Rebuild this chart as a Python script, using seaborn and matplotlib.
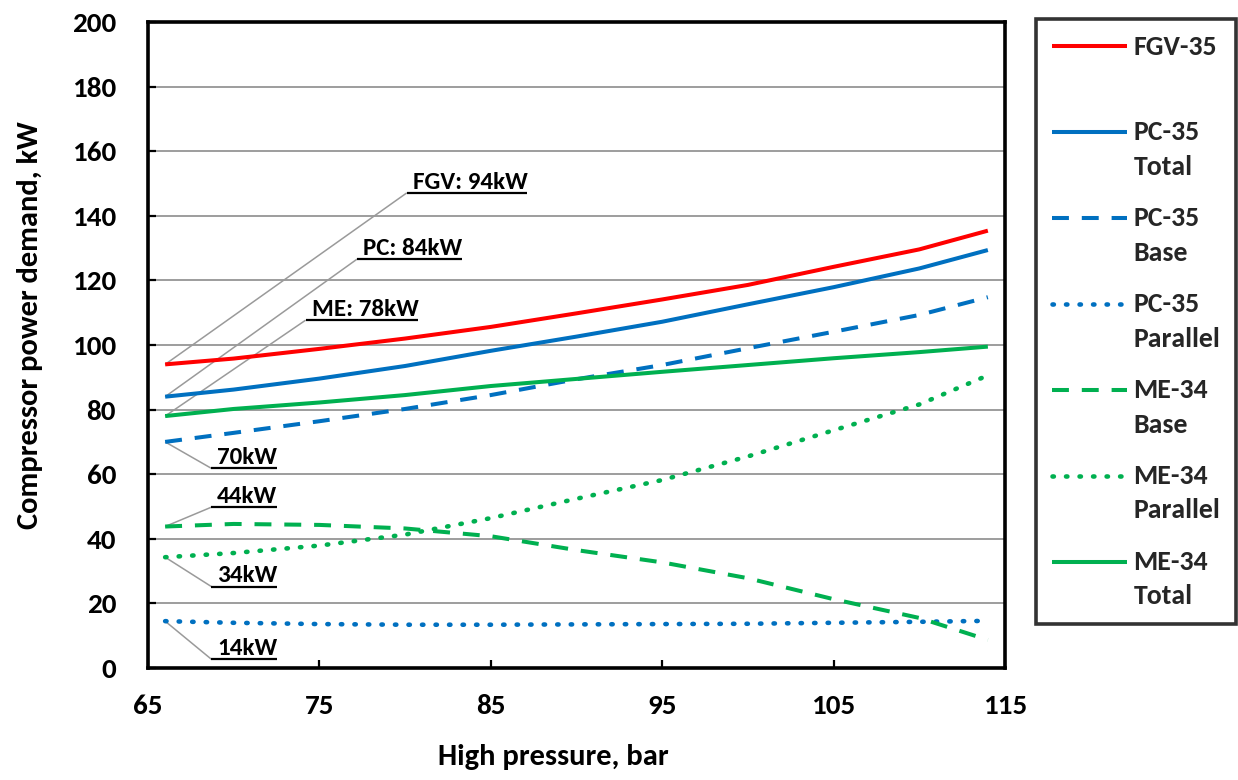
import numpy as np
import pandas as pd
import matplotlib
matplotlib.use("Agg")
import matplotlib.pyplot as plt
from matplotlib import font_manager as fm
from matplotlib.lines import Line2D
from matplotlib.legend_handler import HandlerLine2D
import seaborn as sns

# ---------------- data ----------------
pressure = [66, 70, 75, 80, 85, 90, 95, 100, 105, 110, 114]
fgv_35 = [94.0, 95.8, 98.8, 102.0, 105.6, 109.8, 114.1, 118.6, 124.2, 129.6, 135.4]
pc35_total = [84.0, 86.2, 89.6, 93.5, 98.2, 102.6, 107.2, 112.6, 117.9, 123.7, 129.4]
pc35_base = [70.0, 72.8, 76.4, 80.2, 84.5, 89.4, 93.8, 99.0, 104.1, 109.3, 114.8]
pc35_parallel = [14.5, 14.0, 13.6, 13.4, 13.4, 13.5, 13.6, 13.7, 14.0, 14.3, 14.6]
me34_base = [43.8, 44.6, 44.3, 43.2, 40.8, 36.5, 32.7, 27.8, 21.3, 15.5, 8.7]
me34_parallel = [34.3, 35.6, 37.9, 41.3, 46.4, 52.4, 58.2, 65.5, 73.6, 81.6, 90.6]
me34_total = [78.0, 80.2, 82.2, 84.5, 87.3, 89.5, 91.7, 93.8, 95.9, 97.8, 99.5]

series_names = ["FGV-35", "PC-35 Total", "PC-35 Base", "PC-35 Parallel",
                "ME-34 Base", "ME-34 Parallel", "ME-34 Total"]
legend_labels = ["FGV-35\n ", "PC-35\nTotal", "PC-35\nBase", "PC-35\nParallel",
                 "ME-34\nBase", "ME-34\nParallel", "ME-34\nTotal"]
x_ticks = [65, 75, 85, 95, 105, 115]
y_ticks = [0, 20, 40, 60, 80, 100, 120, 140, 160, 180, 200]

df = pd.DataFrame({"pressure": pressure, "FGV-35": fgv_35, "PC-35 Total": pc35_total,
                   "PC-35 Base": pc35_base, "PC-35 Parallel": pc35_parallel,
                   "ME-34 Base": me34_base, "ME-34 Parallel": me34_parallel,
                   "ME-34 Total": me34_total})
long = df.melt(id_vars="pressure", var_name="series", value_name="power")


# ---------------- font: first candidate that has a real bold face ----------------
def has_bold(fam):
    for f in fm.fontManager.ttflist:
        if f.name == fam:
            w = f.weight
            if isinstance(w, str):
                w = fm.weight_dict.get(w, 400)
            if w >= 600:
                return True
    return False


FAMILY = "DejaVu Sans"
for cand in ["Carlito", "Calibri", "Lato", "Open Sans", "Noto Sans", "Roboto",
             "Liberation Sans"]:
    if has_bold(cand):
        FAMILY = cand
        break

sns.set_theme(style="white")
plt.rcParams["font.family"] = [FAMILY, "DejaVu Sans"]
plt.rcParams["font.weight"] = "bold"

RED, BLUE, GREEN = "#FF0000", "#0070C0", "#00B050"
SOLID, DASH, DOT = "-", (0, (4.2, 3.2)), (0, (0.3, 2.65))
style_map = {
    "FGV-35": (RED, SOLID),
    "PC-35 Total": (BLUE, SOLID),
    "PC-35 Base": (BLUE, DASH),
    "PC-35 Parallel": (BLUE, DOT),
    "ME-34 Base": (GREEN, DASH),
    "ME-34 Parallel": (GREEN, DOT),
    "ME-34 Total": (GREEN, SOLID),
}
LW = 2.9
LW_DOT = 3.3
FS_TICK = 21
FS_LABEL = 22
FS_LEG = 20
FS_ANN = 18

W, H = 1238, 780
fig = plt.figure(figsize=(W / 100, H / 100), dpi=100)
ax = fig.add_axes([148 / W, 1 - 668 / H, 857 / W, 646 / H])

handles = []
for name in series_names:
    color, ls = style_map[name]
    sub = long[long["series"] == name]
    sns.lineplot(data=sub, x="pressure", y="power", color=color, linestyle=ls,
                 linewidth=LW_DOT if ls == DOT else LW, ax=ax, label=name, zorder=3)
    ln = ax.get_lines()[-1]
    ln.set_linestyle(ls)
    ln.set_dash_capstyle("round" if ls == DOT else "butt")
    ln.set_solid_capstyle("butt")
    handles.append(ln)
if ax.get_legend() is not None:
    ax.get_legend().remove()

ax.set_xlim(65, 115)
ax.set_ylim(0, 200)
ax.set_xticks(x_ticks)
ax.set_yticks(y_ticks)
ax.yaxis.grid(True, color="#8C8C8C", linewidth=1.2)
ax.xaxis.grid(False)
ax.set_axisbelow(True)
for s in ax.spines.values():
    s.set_visible(True)
    s.set_color("black")
    s.set_linewidth(2.6)
ax.tick_params(axis="both", direction="in", length=6, width=1.6, color="black",
               labelsize=FS_TICK, labelcolor="black")
ax.tick_params(axis="y", pad=23, left=True, right=False)
ax.tick_params(axis="x", pad=19, bottom=True, top=False)
for lab in ax.get_xticklabels() + ax.get_yticklabels():
    lab.set_fontweight("bold")

ax.set_xlabel("High pressure, bar", fontsize=FS_LABEL, fontweight="bold", color="black")
ax.set_ylabel("Compressor power demand, kW", fontsize=FS_LABEL, fontweight="bold",
              color="black")
ax.xaxis.set_label_coords((553 - 148) / 857, (668 - 744) / 646)
ax.yaxis.set_label_coords((43 - 148) / 857, (668 - 325) / 646)

# ---------------- data labels with leader lines ----------------
x0 = pressure[0]
annots = [
    (f"FGV: {fgv_35[0]:.0f}kW", fgv_35[0], 80.1, 147.1),
    (f"PC: {pc35_total[0]:.0f}kW", pc35_total[0], 77.2, 126.6),
    (f"ME: {me34_total[0]:.0f}kW", me34_total[0], 74.2, 107.7),
    (f"{pc35_base[0]:.0f}kW", pc35_base[0], 68.7, 61.8),
    (f"{me34_base[0]:.0f}kW", me34_base[0], 68.7, 49.8),
    (f"{me34_parallel[0]:.0f}kW", me34_parallel[0], 68.7, 25.2),
    (f"{pc35_parallel[0]:.0f}kW", pc35_parallel[0], 68.7, 2.7),
]
texts = []
for txt, yv, xl, yl in annots:
    ax.plot([x0, xl], [yv, yl], color="#9A9A9A", linewidth=1.1, zorder=2,
            solid_capstyle="butt")
    t = ax.text(xl + 0.34, yl + 1.3, txt, fontsize=FS_ANN, fontweight="bold",
                color="black", ha="left", va="baseline", zorder=4)
    texts.append((t, xl, yl))

fig.canvas.draw()
renderer = fig.canvas.get_renderer()
inv = ax.transData.inverted()
for t, xl, yl in texts:
    bb = t.get_window_extent(renderer)
    xr = inv.transform((bb.x1, bb.y0))[0]
    ax.plot([xl, xr], [yl, yl], color="black", linewidth=1.6, zorder=4,
            solid_capstyle="butt")


# ---------------- legend ----------------
class FirstLineHandler(HandlerLine2D):
    def __init__(self, shift, **kw):
        super().__init__(**kw)
        self.shift = shift

    def create_artists(self, legend, orig_handle, xdescent, ydescent, width,
                       height, fontsize, trans):
        arts = super().create_artists(legend, orig_handle, xdescent, ydescent,
                                      width, height, fontsize, trans)
        for a in arts:
            a.set_ydata(np.asarray(a.get_ydata(), dtype=float) + self.shift)
            a.set_dash_capstyle(orig_handle.get_dash_capstyle())
        return arts


leg = fig.legend(handles, legend_labels, loc="upper left",
                 bbox_to_anchor=(1036 / W, 1 - 19 / H), fontsize=FS_LEG,
                 frameon=True, fancybox=False, edgecolor="black",
                 handlelength=2.7, handletextpad=0.25, labelspacing=0.99,
                 borderpad=0.56, borderaxespad=0,
                 handler_map={Line2D: FirstLineHandler(12.8)})
leg.get_frame().set_linewidth(2.6)
for t in leg.get_texts():
    t.set_linespacing(1.52)
    t.set_fontweight("bold")

fig.savefig("out.png", dpi=100)
